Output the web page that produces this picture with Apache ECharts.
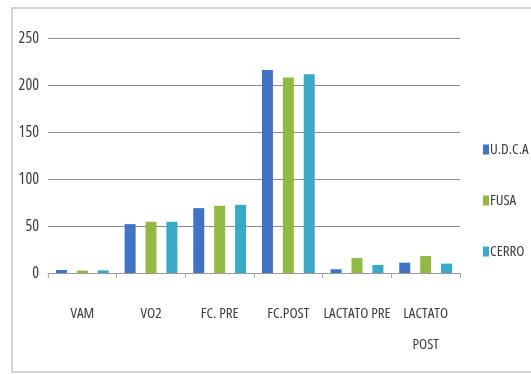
<!DOCTYPE html>
<html>
<head>
<meta charset="utf-8">
<script src="https://cdn.jsdelivr.net/npm/echarts@6/dist/echarts.min.js"></script>
<style>
  html, body { margin: 0; padding: 0; background: #fff; }
  #chart { width: 531px; height: 374px; }
</style>
</head>
<body>
<div id="chart"></div>
<script>
// Categories and series values
const categories = ['VAM', 'VO2', 'FC. PRE', 'FC.POST', 'LACTATO PRE', 'LACTATO\nPOST'];
const udca  = [3.2, 52, 69, 216, 4, 11];
const fusa  = [2.6, 54.5, 71.5, 208, 16, 18];
const cerro = [2.8, 54.5, 72.5, 211.5, 8.5, 10];
const yTicks = { min: 0, max: 250, interval: 50 };

// Narrow face: Open Sans with the condensed stretch
const FONT = "'Open Sans', 'Roboto', sans-serif";
const STRETCH = 'condensed';
const TEXT_COLOR = '#3c3c3c';

const chart = echarts.init(document.getElementById('chart'));

const mkSeries = (name, data, color) => ({
  name, type: 'bar', data,
  barWidth: 11, barGap: '90%',
  itemStyle: { color }
});

chart.setOption({
  animation: false,
  textStyle: { fontFamily: FONT, fontWeight: STRETCH },
  graphic: [{
    type: 'rect',
    shape: { x: 12, y: 8, width: 530, height: 364 },
    style: { fill: 'none', stroke: '#c8c8c8', lineWidth: 1.5 }
  }],
  grid: { left: 48, right: 71, top: 38, bottom: 101, containLabel: false },
  legend: {
    orient: 'vertical',
    left: 478, top: 137,
    itemWidth: 6, itemHeight: 10, itemGap: 36,
    icon: 'rect',
    textStyle: { fontFamily: FONT, fontWeight: STRETCH, fontSize: 15, lineHeight: 15, color: TEXT_COLOR, padding: [0, 0, 0, -4] },
    data: ['U.D.C.A', 'FUSA', 'CERRO']
  },
  xAxis: {
    type: 'category',
    data: categories,
    axisLine: { lineStyle: { color: '#9a9a9a', width: 1 } },
    axisTick: { show: true, length: 5, lineStyle: { color: '#aaa' } },
    axisLabel: { fontFamily: FONT, fontWeight: STRETCH, fontSize: 15, color: TEXT_COLOR, margin: 25, lineHeight: 31, interval: 0 }
  },
  yAxis: {
    type: 'value',
    min: yTicks.min, max: yTicks.max, interval: yTicks.interval,
    axisLine: { show: false },
    axisTick: { show: false },
    axisLabel: { fontFamily: FONT, fontWeight: STRETCH, fontSize: 16, color: TEXT_COLOR, margin: 9 },
    splitLine: { lineStyle: { color: '#8c8c8c', width: 1 } }
  },
  series: [
    mkSeries('U.D.C.A', udca, '#4272c4'),
    mkSeries('FUSA', fusa, '#92b944'),
    mkSeries('CERRO', cerro, '#3aa9c8')
  ]
});
</script>
</body>
</html>
